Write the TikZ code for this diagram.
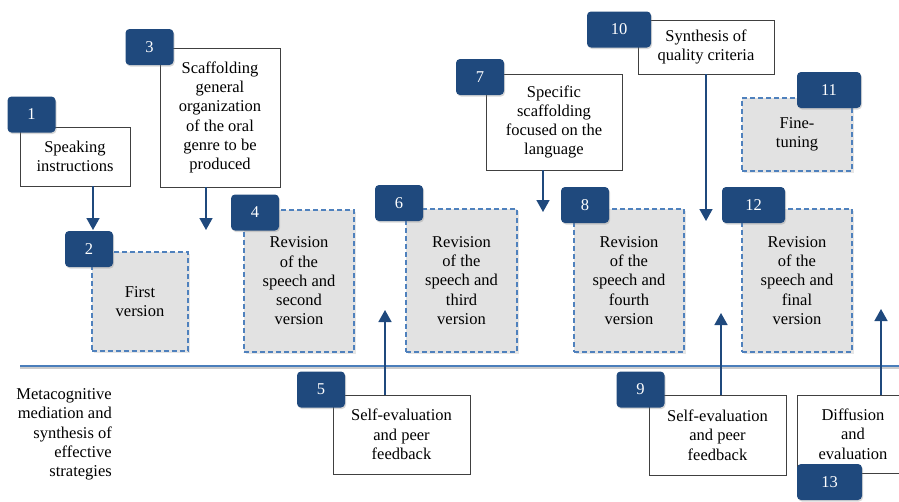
\documentclass[tikz,border=0pt]{standalone}
\usepackage{fontspec}
\setmainfont{Liberation Serif}
\usetikzlibrary{arrows.meta,shadows}

\definecolor{badgeblue}{HTML}{1F497D}
\definecolor{dashblue}{HTML}{4F81BD}
\definecolor{boxgray}{HTML}{E2E2E2}
\definecolor{lineblue}{HTML}{4A7EBB}

\begin{document}
\begin{tikzpicture}[x=1pt,y=-1pt,
    every node/.style={font=\fontsize{16.5}{19.3}\selectfont, align=center, inner sep=0pt},
    textbox/.style={draw=black!75, line width=0.9pt, fill=white},
    versionbox/.style={draw=dashblue, line width=1.3pt, dash pattern=on 5pt off 3pt, fill=boxgray,
        drop shadow={opacity=0.2, shadow xshift=1.5pt, shadow yshift=-1.5pt}},
    badge/.style={fill=badgeblue, text=white, rounded corners=4pt, minimum height=36pt,
        drop shadow={opacity=0.3, shadow xshift=1pt, shadow yshift=-1.5pt}},
    arr/.style={draw=badgeblue, line width=1.6pt, -{Triangle[width=13pt,length=12pt]}}]

        \clip (0,0) rectangle (899,501);

        % Separation line
        \coordinate (lineL) at (20,366);
        \coordinate (lineR) at (899,366);
        \draw[black!20, line width=2pt] ([yshift=-2pt]lineL) -- ([yshift=-2pt]lineR);
        \draw[lineblue, line width=1.4pt] (lineL) -- (lineR);

        % Upper tasks
        \node[textbox, minimum width=110, minimum height=59] (b1) at (75,156.5) {Speaking\\instructions};
        \node[textbox, minimum width=120, minimum height=139] (b3) at (220,117.5)
            {Scaffolding\\general\\organization\\of the oral\\genre to be\\produced};
        \node[textbox, minimum width=136, minimum height=96] (b7) at (554,122)
            {Specific\\scaffolding\\focused on the\\language};
        \node[textbox, minimum width=136, minimum height=54] (b10) at (706,47) {Synthesis of\\quality criteria};

        % Versions
        \node[versionbox, minimum width=96, minimum height=99] (b2) at (140,301.5) {First\\version};
        \node[versionbox, minimum width=110, minimum height=142] (b4) at (299,281)
            {Revision\\of the\\speech and\\second\\version};
        \node[versionbox, minimum width=111, minimum height=143] (b6) at (461.5,280.5)
            {Revision\\of the\\speech and\\third\\version};
        \node[versionbox, minimum width=110, minimum height=143] (b8) at (629,280.5)
            {Revision\\of the\\speech and\\fourth\\version};
        \node[versionbox, minimum width=110, minimum height=73] (b11) at (797,134.5) {Fine-\\tuning};
        \node[versionbox, minimum width=110, minimum height=143] (b12) at (797,280.5)
            {Revision\\of the\\speech and\\final\\version};

        % Lower tasks
        \node[anchor=east, align=right] (meta) at (112,434.5)
            {Metacognitive\\mediation and\\synthesis of\\effective\\strategies};
        \node[textbox, minimum width=137, minimum height=79] (b5) at (401.5,434.5)
            {Self-evaluation\\and peer\\feedback};
        \node[textbox, minimum width=137, minimum height=80] (b9) at (717.5,435)
            {Self-evaluation\\and peer\\feedback};
        \node[textbox, minimum width=112, minimum height=78] (b13) at (853,434)
            {Diffusion\\and\\evaluation};

        % Numbers
        \foreach \n/\x/\y/\w in {1/31.5/114.5/48, 2/89/249/48, 3/149.5/47/48, 4/255/212.5/48,
                5/321/389.5/48, 6/399/203/48, 7/480/77/48, 8/585/205/48, 9/640.5/389.5/48,
                10/619/29.5/64, 11/829/90/64, 12/753.5/205/63, 13/829.5/482/65}
            \node[badge, minimum width=\w] (n\n) at (\x,\y) {\n};

        % Arrows
        \coordinate (t1) at (93,230);
        \coordinate (t3) at (206,230);
        \coordinate (t5) at (385,310);
        \coordinate (t7) at (543,212);
        \coordinate (t9) at (721,313);
        \coordinate (t10) at (706,221);
        \coordinate (t13) at (881,309);
        \draw[arr] (b1.south -| t1) -- (t1);
        \draw[arr] (b3.south -| t3) -- (t3);
        \draw[arr] (b5.north -| t5) -- (t5);
        \draw[arr] (b7.south -| t7) -- (t7);
        \draw[arr] (b9.north -| t9) -- (t9);
        \draw[arr] (b10.south -| t10) -- (t10);
        \draw[arr] (b13.north -| t13) -- (t13);

    \end{tikzpicture}
\end{document}
